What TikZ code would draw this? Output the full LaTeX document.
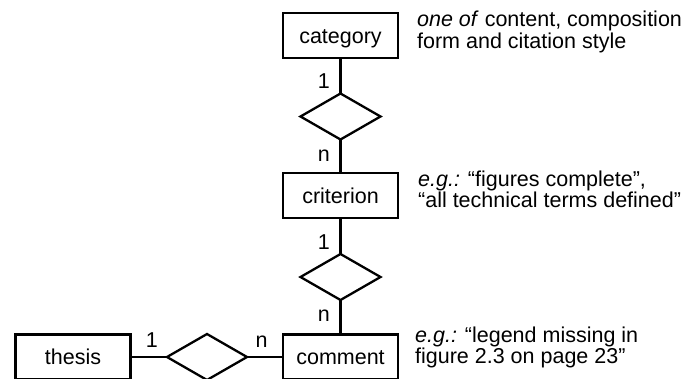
\documentclass[tikz,border=0pt]{standalone}
\usepackage{fontspec}
\setmainfont{Liberation Sans}
\usetikzlibrary{shapes.geometric}
\begin{document}
\begin{tikzpicture}[x=1pt,y=-1pt,line width=2.3pt,
  entity/.style={draw,minimum width=115pt,minimum height=45pt,inner sep=0pt,outer sep=0pt,
    text height=15.5pt,text depth=0pt,font=\fontsize{21.5}{22}\selectfont},
  relation/.style={draw,diamond,minimum width=80pt,minimum height=46pt,inner sep=0pt,outer sep=0pt},
  card/.style={inner sep=0pt,font=\fontsize{21.5}{22}\selectfont},
  note/.style={inner sep=0pt,align=left,anchor=base west,font=\fontsize{21.5}{21.5}\selectfont}]
\useasboundingbox[fill=white] (0,0) rectangle (685,378);
% entities
\node[entity] (cat) at (340.5,35.5) {category};
\node[entity] (crit) at (340.5,195.5) {criterion};
\node[entity] (comm) at (340.5,357) {comment};
\node[entity] (thes) at (73,357) {thesis};
% relations
\node[relation] (r1) at (340.5,116.5) {};
\node[relation] (r2) at (340.5,277) {};
\node[relation] (r3) at (207,357) {};
% connectors
\draw (cat) -- (r1) -- (crit);
\draw (crit) -- (r2) -- (comm);
\draw (thes) -- (r3) -- (comm);
% cardinalities
\node[card,anchor=base east] (c1) at (331,88) {1};
\node[card,anchor=base east] (c2) at (331,161) {n};
\node[card,anchor=base east] (c3) at (331,249) {1};
\node[card,anchor=base east] (c4) at (331,321) {n};
\node[card,anchor=base east] (c5) at (159,347) {1};
\node[card,anchor=base west] (c6) at (254.5,347) {n};
% notes (anchor = baseline of the last line)
\node[note] (n1) at (416,48) {\textit{one of} content, composition\\form and citation style};
\node[note] (n2) at (417,207.5) {\textit{e.g.:} “figures complete”,\\“all technical terms defined”};
\node[note] (n3) at (414,363.5) {\textit{e.g.:} “legend missing in\\figure 2.3 on page 23”};
\end{tikzpicture}
\end{document}
